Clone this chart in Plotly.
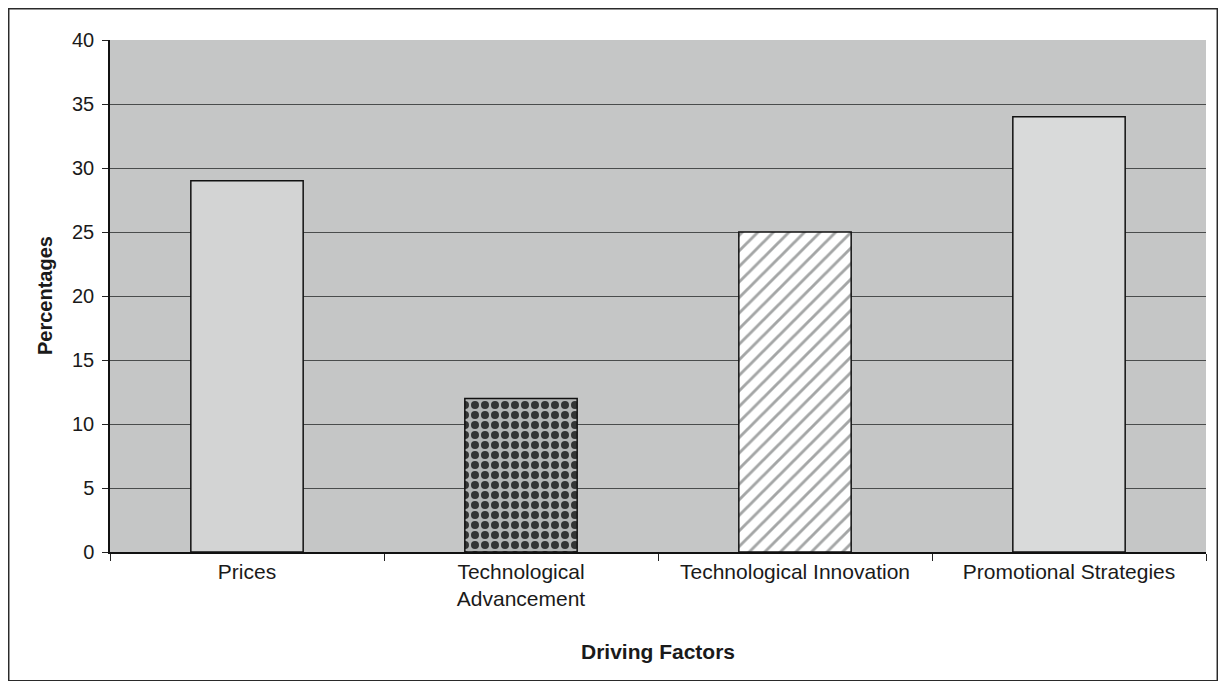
import plotly.graph_objects as go

# Values
categories = ["Prices", "Technological<br>Advancement", "Technological Innovation", "Promotional Strategies"]
percentages = [29, 12, 25, 34]
y_ticks = [0, 5, 10, 15, 20, 25, 30, 35, 40]

# Fill styles per bar (solid, checker, stripes, solid)
bar_shapes = ["", ".", "/", ""]
bar_bg = ["#d3d4d4", "#b3b5b5", "#ffffff", "#d9dada"]
bar_fg = ["#d3d4d4", "#333535", "#a4a6a6", "#d9dada"]
bar_size = [8, 10, 11, 8]
bar_solidity = [0.1, 0.5, 0.26, 0.1]

FONT = "Liberation Sans, Arial, sans-serif"

fig = go.Figure()

# one trace per bar so each gets its own pattern colours
for i in range(len(categories)):
    fig.add_trace(go.Bar(
        x=[categories[i]],
        y=[percentages[i]],
        width=0.41,
        marker=dict(
            color=bar_bg[i],
            line=dict(color="#111111", width=1.5),
            pattern=dict(
                shape=bar_shapes[i],
                fgcolor=bar_fg[i],
                size=bar_size[i],
                solidity=bar_solidity[i],
                fillmode="overlay",
                fgopacity=1,
            ),
        ),
        hovertemplate="%{x}: %{y}%<extra></extra>",
    ))

# the page body adds an 8px margin, so the figure is 16px smaller than the window
fig.update_layout(
    width=1210,
    height=673,
    margin=dict(l=102, r=12, t=32, b=129),
    paper_bgcolor="white",
    plot_bgcolor="#c5c6c6",
    showlegend=False,
    barmode="overlay",
    font=dict(family=FONT, color="#1a1a1a"),
)

fig.update_xaxes(
    type="category",
    categoryorder="array",
    categoryarray=categories,
    tickson="boundaries",
    ticks="outside",
    ticklen=7,
    tickcolor="#222222",
    tickwidth=1,
    showline=True,
    linecolor="#111111",
    linewidth=1.5,
    showgrid=False,
    tickfont=dict(size=21, family=FONT, color="#1a1a1a"),
)

fig.update_yaxes(
    range=[0, 40],
    tickvals=y_ticks,
    ticks="outside",
    ticklen=6,
    tickcolor="#222222",
    ticklabelstandoff=4,
    showline=True,
    linecolor="#111111",
    linewidth=1.5,
    showgrid=True,
    gridcolor="#4a4c4c",
    gridwidth=1,
    zeroline=False,
    tickfont=dict(size=20, family=FONT, color="#1a1a1a"),
)

# Axis titles as annotations so they sit where the reference has them
fig.add_annotation(
    text="<b>Driving Factors</b>",
    xref="paper", yref="paper",
    x=0.5, y=-0.195,
    xanchor="center", yanchor="middle",
    showarrow=False,
    font=dict(size=21, family=FONT, color="#1a1a1a"),
)
fig.add_annotation(
    text="<b>Percentages</b>",
    xref="paper", yref="paper",
    x=-0.0593, y=0.5,
    xanchor="center", yanchor="middle",
    textangle=-90,
    showarrow=False,
    font=dict(size=20, family=FONT, color="#1a1a1a"),
)

# Outer frame around the whole chart
fig.add_shape(
    type="rect",
    xref="paper", yref="paper",
    x0=-0.0924, x1=1.0103, y0=-0.2515, y1=1.061,
    line=dict(color="#2a2a2a", width=1.5),
    fillcolor="rgba(0,0,0,0)",
    layer="below",
)

fig.write_html("out.html")
